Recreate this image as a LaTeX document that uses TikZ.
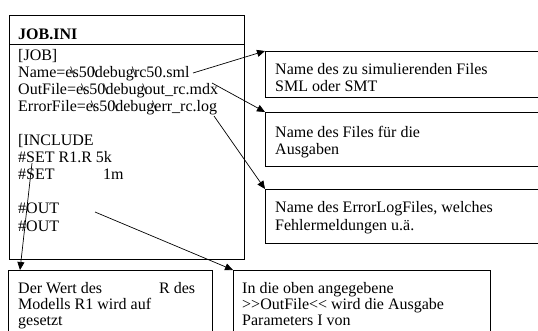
\documentclass[tikz,border=0pt]{standalone}
\usepackage{fontspec}
\setmainfont{Liberation Serif}
\usetikzlibrary{arrows.meta}
\newcommand{\bs}{\kern-2.2pt\textbackslash\kern-2.2pt}
\begin{document}
\begin{tikzpicture}[x=1pt,y=-1pt,
  box/.style={draw,line width=0.8pt,anchor=north west,inner sep=0pt,minimum width=#1},
  txt/.style={anchor=base west,inner sep=0pt,font=\fontsize{16}{17}\selectfont},
  con/.style={line width=0.7pt,-{Triangle[length=8pt,width=7pt]}}]
\useasboundingbox (0,0) rectangle (538,331);
\clip (0,0) rectangle (538,331);
\fill[white] (0,0) rectangle (538,331);
% boxes
\node[box=235pt,minimum height=244pt] (main) at (9,15) {};
\draw[line width=0.8pt] ([yshift=-29pt]main.north west) -- ([yshift=-29pt]main.north east);
\node[box=290pt,minimum height=46pt] (b1) at (265,51) {};
\node[box=290pt,minimum height=54pt] (b2) at (265,112) {};
\node[box=290pt,minimum height=54pt] (b3) at (265,189) {};
\node[box=204pt,minimum height=90pt] (bl) at (8,270) {};
\node[box=257pt,minimum height=90pt] (br) at (233,270) {};
% main box text
\node[txt,font=\fontsize{16}{17}\selectfont\bfseries] (title) at (18,40) {JOB.INI};
\node[txt] (l1) at (18,61) {[JOB]};
\node[txt] (l2) at (18,78) {Name=e\bs s50\bs debug\bs rc50.sml};
\node[txt] (l3) at (18,95) {OutFile=e\bs s50\bs debug\bs out\_rc.mdx};
\node[txt] (l4) at (18,112) {ErrorFile=e\bs s50\bs debug\bs err\_rc.log};
\node[txt] (l5) at (18,146) {[INCLUDE};
\node[txt] (l6) at (18,163) {\#SET R1.R 5k};
\node[txt] (l7) at (18,180) {\#SET};
\node[txt] (l7b) at (103,180) {1m};
\node[txt] (l8) at (18,214) {\#OUT};
\node[txt] (l9) at (18,231) {\#OUT};
% right boxes text
\node[txt] (t1a) at (275,75) {Name des zu simulierenden Files};
\node[txt] (t1b) at (275,92) {SML oder SMT};
\node[txt] (t2a) at (275,138) {Name des Files für die};
\node[txt] (t2b) at (275,155) {Ausgaben};
\node[txt] (t3a) at (275,213) {Name des ErrorLogFiles, welches};
\node[txt] (t3b) at (275,230) {Fehlermeldungen u.ä.};
% bottom boxes text
\node[txt] (t4a) at (18,293) {Der Wert des};
\node[txt] (t4r) at (159,293) {R des};
\node[txt] (t4b) at (18,309) {Modells R1 wird auf};
\node[txt] (t4c) at (18,325) {gesetzt};
\node[txt] (t5a) at (242,293) {In die oben angegebene};
\node[txt] (t5b) at (242,309) {>{}>OutFile<{}< wird die Ausgabe};
\node[txt] (t5c) at (242,325) {Parameters I von};
% connector start points
\coordinate (s1) at (193,73);
\coordinate (s2) at (212,83);
\coordinate (s3) at (214,116);
\coordinate (s4) at (32,163);
\coordinate (s5) at (95,212);
\draw[con] (s1) -- (b1.north west);
\draw[con] (s2) -- (b2.north west);
\draw[con] (s3) -- (b3.north west);
\draw[con] (s4) -- ([xshift=12pt]bl.north west);
\draw[con] (s5) -- (br.north west);
\end{tikzpicture}
\end{document}
